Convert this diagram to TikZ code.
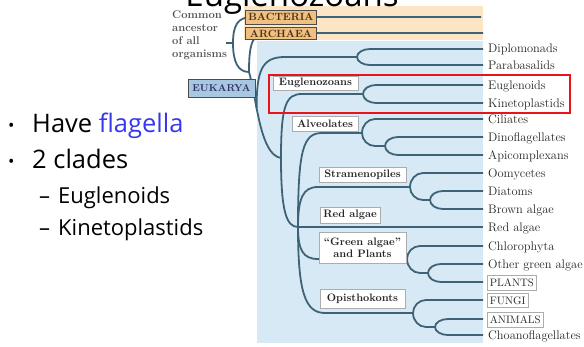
\documentclass[tikz,border=0pt]{standalone}
\usepackage{fontspec}
\newfontfamily\slidefont{Open Sans}
\definecolor{treecol}{HTML}{3E6378}
\definecolor{peachbg}{HTML}{FCE5C4}
\definecolor{bluebg}{HTML}{D8E9F6}
\definecolor{tanbox}{HTML}{EFC07F}
\definecolor{eukbox}{HTML}{A7C7E2}
\definecolor{labcol}{HTML}{262626}
\definecolor{ancol}{HTML}{555555}
\definecolor{flagblue}{HTML}{3737EE}
\definecolor{redframe}{HTML}{E8141C}
\tikzset{
  tree/.style={draw=treecol, line width=1.8pt},
  grp/.style={draw=gray!65, fill=white, line width=0.8pt, font=\fontsize{10.8}{12}\selectfont\bfseries, text=labcol, inner sep=0pt, align=center},
  tip/.style={font=\fontsize{12.4}{13}\selectfont, text=labcol, anchor=base west, inner sep=0pt},
  tipbox/.style={draw=gray!65, fill=white, line width=0.7pt, font=\fontsize{10.8}{11}\selectfont, text=labcol, anchor=west, inner xsep=2.5pt, text height=7.5pt, text depth=0pt, inner ysep=3.5pt},
  dombox/.style={draw=gray!60!black, line width=0.7pt, font=\fontsize{10.5}{11}\selectfont\bfseries, inner sep=0pt},
  anc/.style={font=\fontsize{11.2}{13}\selectfont\bfseries, text=ancol, anchor=base west, inner sep=0pt},
  slide/.style={font=\slidefont\fontsize{25.5}{28}\selectfont, anchor=base west, inner sep=0pt},
  subslide/.style={font=\slidefont\fontsize{22}{24}\selectfont, anchor=base west, inner sep=0pt}
}
\newcommand\treebranch[5]{\draw[tree] (#1,#2) .. controls (#1,{#2+0.55*(#4-#2)}) and ({#3-0.55*(#3-#1)},#4) .. (#3,#4) -- (#5,#4);}
\begin{document}
\begin{tikzpicture}[x=1pt,y=-1pt]
\clip (0,0) rectangle (584,346);
\fill[white] (0,0) rectangle (584,346);
\fill[peachbg] (244,6) rectangle (483,40);
\fill[bluebg] (257,41) rectangle (483,343);

% main nodes of the tree
\coordinate (root) at (233,43);
\coordinate (aenode) at (249,72);
\coordinate (dnode) at (256.6,108);
\coordinate (enode) at (281,158);
\coordinate (bignode) at (298,227);

% trunk
\draw[tree] (226,43) -- (root);
\draw[tree] (root) .. controls (233,25) and (238,17) .. (252,17) -- (481,17);
\draw[tree] (root) .. controls (233,62) and (238,72) .. (aenode);
\draw[tree] (aenode) .. controls (249,45) and (252,33) .. (266,33) -- (483,33);
\draw[tree] (aenode) .. controls (257,100) and (260,155) .. (enode);
\draw[tree] (dnode) .. controls (256.6,70) and (262,57) .. (285,57) -- (357,57);
\draw[tree] (enode) .. controls (281,105) and (286,94) .. (302,94) -- (363,94);
\draw[tree] (enode) .. controls (281,210) and (286,227) .. (bignode);
\draw[tree] (bignode) .. controls (298,150) and (303,133) .. (322,133) -- (362,133);
\draw[tree] (bignode) .. controls (298,198) and (303,187) .. (318,187) -- (410,187);
\draw[tree] (bignode) -- (483,227);
\draw[tree] (bignode) .. controls (298,250) and (303,259) .. (318,259) -- (407,259);
\draw[tree] (bignode) .. controls (298,292) and (305,313) .. (325,313) -- (413,313);

% forks
\treebranch{357}{57}{370}{49}{483}
\treebranch{357}{57}{370}{65}{483}
\treebranch{363}{94}{376}{85}{483}
\treebranch{363}{94}{376}{103}{483}
\treebranch{362}{133}{375}{119}{483}
\treebranch{362}{133}{375}{146}{385}
\treebranch{385}{146}{398}{137}{483}
\treebranch{385}{146}{398}{155}{483}
\treebranch{410}{187}{423}{173}{483}
\treebranch{410}{187}{423}{200}{430}
\treebranch{430}{200}{443}{191}{483}
\treebranch{430}{200}{443}{209}{483}
\treebranch{407}{259}{420}{246}{483}
\treebranch{407}{259}{420}{273}{428}
\treebranch{428}{273}{441}{264}{483}
\treebranch{428}{273}{441}{282}{483}
\treebranch{413}{313}{426}{300}{483}
\treebranch{413}{313}{426}{327}{435}
\treebranch{435}{327}{448}{319}{483}
\treebranch{435}{327}{448}{335}{483}

% domain boxes
\node[dombox, fill=tanbox, text=brown!40!black, minimum width=71pt, minimum height=14pt] (bact) at (281,17) {BACTERIA};
\node[dombox, fill=tanbox, text=brown!40!black, minimum width=71pt, minimum height=12pt] (arch) at (281,33.5) {ARCHAEA};
\node[dombox, fill=eukbox, text=blue!25!black!80, minimum width=67pt, minimum height=18pt, font=\fontsize{10}{11}\selectfont\bfseries] (euk) at (221.5,88) {EUKARYA};

% ancestor text
\node[anc] (anc1) at (172,18) {Common};
\node[anc] (anc2) at (172,31) {ancestor};
\node[anc] (anc3) at (172,44) {of all};
\node[anc] (anc4) at (172,57) {organisms};

% group labels
\node[grp, minimum width=85pt, minimum height=14pt] (gEug) at (315.5,83) {Euglenozoans};
\node[grp, minimum width=66pt, minimum height=15pt] (gAlv) at (325,123.5) {Alveolates};
\node[grp, minimum width=87pt, minimum height=15pt] (gStr) at (362.5,174.5) {Stramenopiles};
\node[grp, minimum width=60pt, minimum height=16pt] (gRed) at (350,215) {Red algae};
\node[grp, minimum width=87pt, minimum height=31pt] (gGrn) at (362.5,247.5) {“Green algae”\\and Plants};
\node[grp, minimum width=85pt, minimum height=19pt] (gOpi) at (362.5,299) {Opisthokonts};

% tips
\node[tip] (t1) at (488,52) {Diplomonads};
\node[tip] (t2) at (488,69) {Parabasalids};
\node[tip] (t3) at (488,89) {Euglenoids};
\node[tip] (t4) at (488,107) {Kinetoplastids};
\node[tip] (t5) at (488,123) {Ciliates};
\node[tip] (t6) at (488,141) {Dinoflagellates};
\node[tip] (t7) at (488,159) {Apicomplexans};
\node[tip] (t8) at (488,177) {Oomycetes};
\node[tip] (t9) at (488,195) {Diatoms};
\node[tip] (t10) at (488,213) {Brown algae};
\node[tip] (t11) at (488,231) {Red algae};
\node[tip] (t12) at (488,250) {Chlorophyta};
\node[tip] (t13) at (488,268) {Other green algae};
\node[tipbox] (t14) at (487,283) {PLANTS};
\node[tipbox] (t15) at (487,300.5) {FUNGI};
\node[tipbox] (t16) at (487,320) {ANIMALS};
\node[tip] (t17) at (488,339.5) {Choanoflagellates};

% highlight frame
\draw[redframe, line width=2.4pt] (269,75) rectangle (570,113);

% slide text
\node[font=\slidefont\fontsize{33}{36}\selectfont, anchor=base, inner sep=0pt] (title) at (292,6) {Euglenozoans};
\node[font=\slidefont\fontsize{17}{20}\selectfont, anchor=base west, inner sep=0pt] (bul1) at (8,131) {•};
\node[slide] (item1) at (32,132) {Have \textcolor{flagblue}{flagella}};
\node[font=\slidefont\fontsize{17}{20}\selectfont, anchor=base west, inner sep=0pt] (bul2) at (8,167) {•};
\node[slide] (item2) at (32,168) {2 clades};
\node[subslide] (sub1) at (39,203) {–\hspace{8pt}Euglenoids};
\node[subslide] (sub2) at (39,235) {–\hspace{8pt}Kinetoplastids};
\end{tikzpicture}
\end{document}
